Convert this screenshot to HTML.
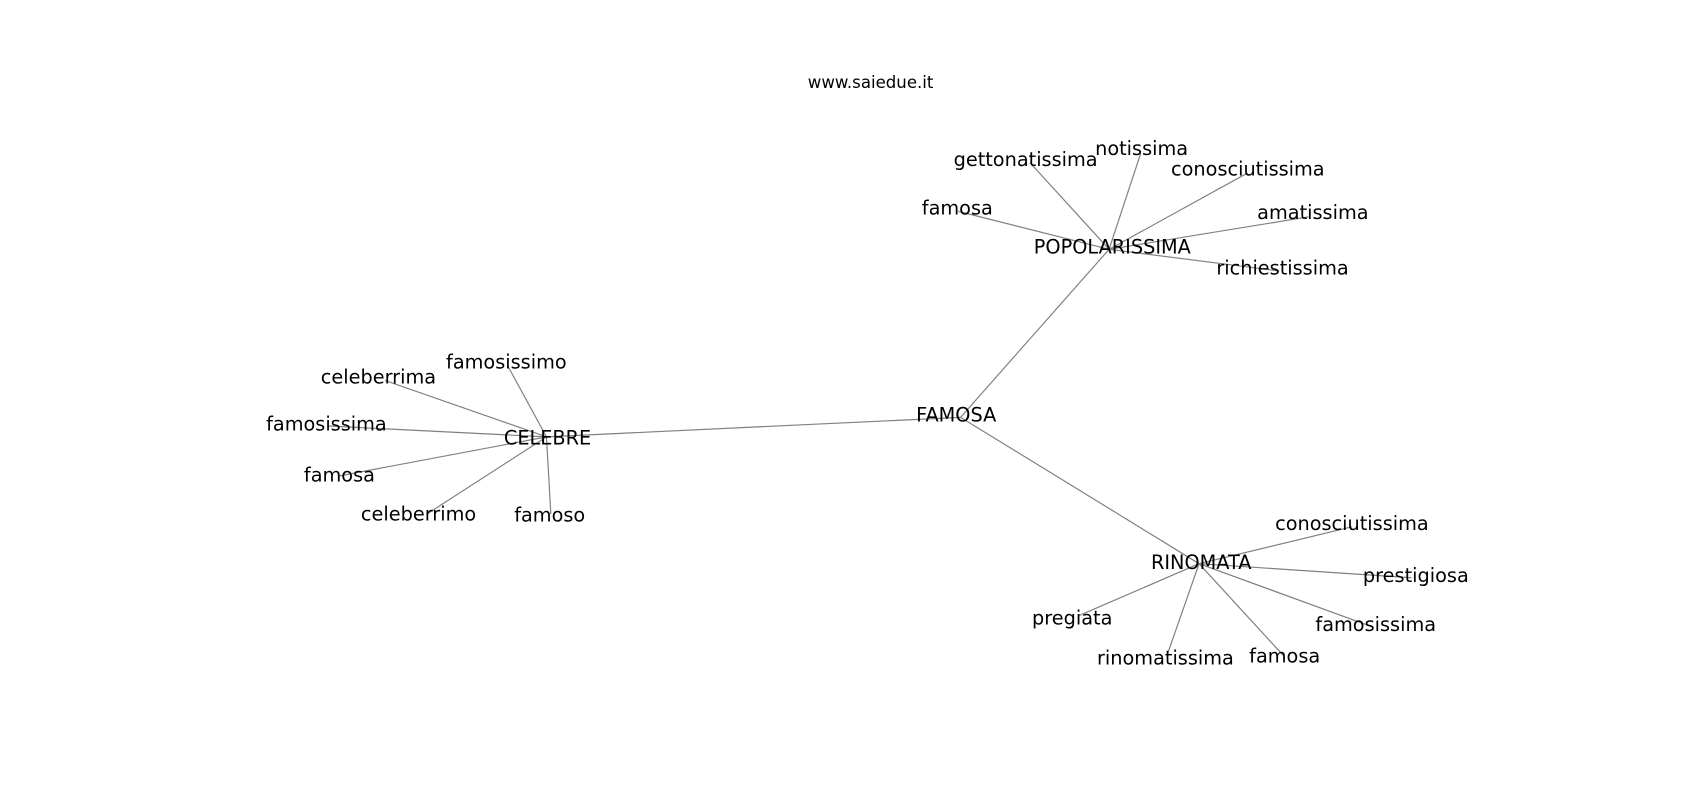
<!DOCTYPE html>
<html><head><meta charset="utf-8"><style>
html,body{margin:0;padding:0;background:#fff;}
svg{display:block;}
text{font-family:"DejaVu Sans","Liberation Sans",sans-serif;fill:#000;}
</style></head><body>
<svg width="1700" height="800" viewBox="0 0 1568 738" xmlns="http://www.w3.org/2000/svg">
<rect width="1568" height="738" fill="#fff"/>
<g stroke="#808080" stroke-width="1.1" fill="none">
<line x1="886" y1="385" x2="1023" y2="230"/>
<line x1="886" y1="385" x2="504" y2="403"/>
<line x1="886" y1="385" x2="1106" y2="520"/>
<line x1="1023" y1="230" x2="950" y2="150"/>
<line x1="1023" y1="230" x2="1052" y2="142"/>
<line x1="1023" y1="230" x2="1150" y2="160"/>
<line x1="1023" y1="230" x2="1207" y2="200"/>
<line x1="1023" y1="230" x2="1180" y2="250"/>
<line x1="1023" y1="230" x2="884" y2="195"/>
<line x1="504" y1="403" x2="468" y2="337"/>
<line x1="504" y1="403" x2="355" y2="351"/>
<line x1="504" y1="403" x2="303" y2="393"/>
<line x1="504" y1="403" x2="313" y2="439"/>
<line x1="504" y1="403" x2="394" y2="474"/>
<line x1="504" y1="403" x2="508" y2="474"/>
<line x1="1106" y1="520" x2="1247" y2="486"/>
<line x1="1106" y1="520" x2="1302" y2="533"/>
<line x1="1106" y1="520" x2="1265" y2="578"/>
<line x1="1106" y1="520" x2="1184" y2="605"/>
<line x1="1106" y1="520" x2="1077" y2="603"/>
<line x1="1106" y1="520" x2="995" y2="568"/>
</g>
<g font-size="17.8" text-anchor="middle" dominant-baseline="central">
<text x="882" y="383">FAMOSA</text>
<text x="1026" y="228">POPOLARISSIMA</text>
<text x="505" y="404">CELEBRE</text>
<text x="1108" y="519">RINOMATA</text>
<text x="946" y="147">gettonatissima</text>
<text x="1053" y="137">notissima</text>
<text x="1151" y="156">conosciutissima</text>
<text x="1211" y="196">amatissima</text>
<text x="1183" y="247">richiestissima</text>
<text x="883" y="192">famosa</text>
<text x="467" y="334">famosissimo</text>
<text x="349" y="348">celeberrima</text>
<text x="301" y="391">famosissima</text>
<text x="313" y="438">famosa</text>
<text x="386" y="474">celeberrimo</text>
<text x="507" y="475">famoso</text>
<text x="1247" y="483">conosciutissima</text>
<text x="1306" y="531">prestigiosa</text>
<text x="1269" y="576">famosissima</text>
<text x="1185" y="605">famosa</text>
<text x="1075" y="607">rinomatissima</text>
<text x="989" y="570">pregiata</text>
</g>
<text x="803" y="76" font-size="15.3" text-anchor="middle" dominant-baseline="central">www.saiedue.it</text>
</svg>
</body></html>
